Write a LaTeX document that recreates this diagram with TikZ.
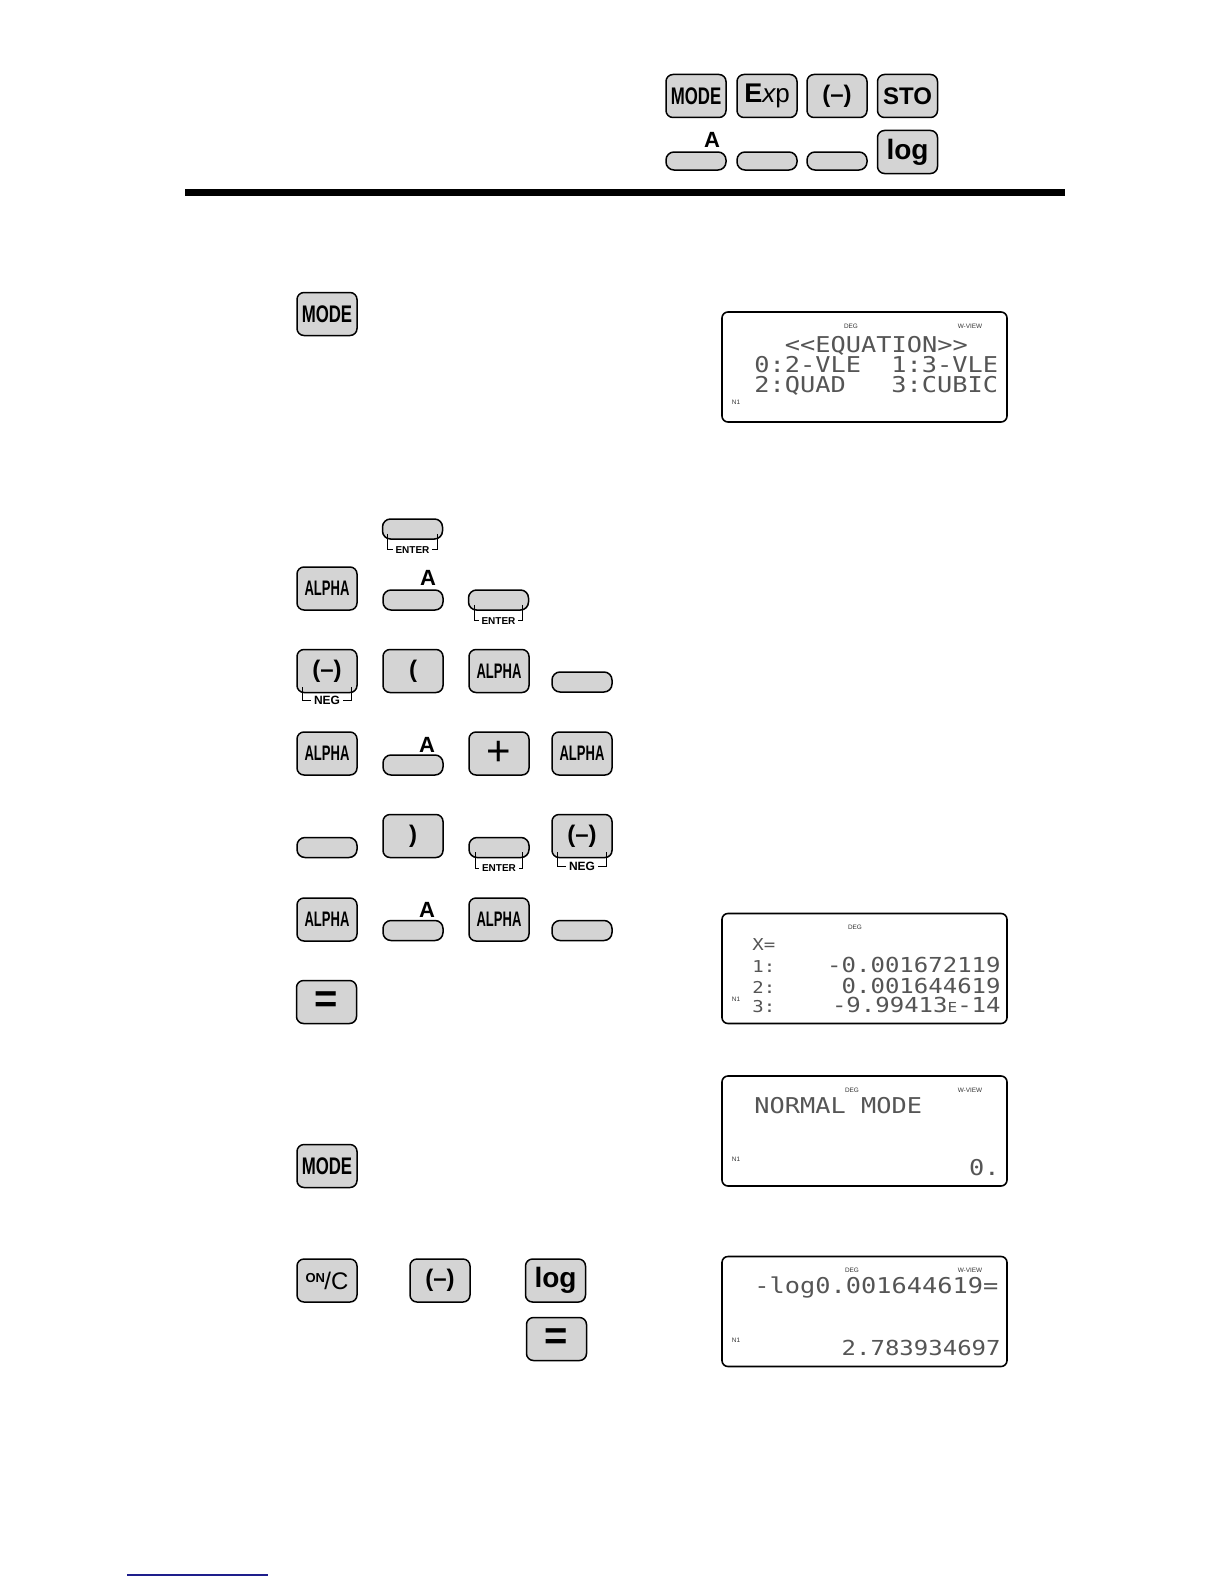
\documentclass[tikz,border=0pt]{standalone}
\usepackage{fontspec}
\usepackage{graphicx}
\setmainfont{Liberation Sans}
\newfontfamily\lcdfont{DejaVu Sans Mono}
\usetikzlibrary{calc}
\definecolor{keygray}{RGB}{212,212,212}
\definecolor{lcdink}{RGB}{85,85,85}
\definecolor{footblue}{RGB}{30,30,140}
\newcommand\condlab[2]{\scalebox{#1}[1]{#2}}
\newcommand\lcdv[1]{\scalebox{1}[0.86]{#1}}
\newcommand\keybracket[5]{%
  \node[brlab, font=\fontsize{#5}{#5}\selectfont\bfseries] (#1-lab) at ($(#1.south)+(0,#4)$) {#2};
  \draw[brline] ($(#1.south west)+(#3,-6)$) |- (#1-lab.west);
  \draw[brline] ($(#1.south east)+(-#3,-6)$) |- (#1-lab.east);
}
\begin{document}
\begin{tikzpicture}[x=0.5pt,y=-0.5pt,
  keybase/.style={draw=black, fill=keygray, line width=0.75pt, rounded corners=3.5pt, inner sep=0pt, minimum width=30pt},
  bigkey/.style={keybase, minimum height=21.5pt},
  flatkey/.style={keybase, minimum height=10pt, rounded corners=4pt},
  hflatkey/.style={keybase, minimum height=9pt, rounded corners=4pt},
  modefont/.style={font=\fontsize{12}{12}\selectfont\bfseries},
  alphafont/.style={font=\fontsize{10.5}{10.5}\selectfont\bfseries},
  negfont/.style={font=\fontsize{12}{12}\selectfont\bfseries},
  logfont/.style={font=\fontsize{14}{14}\selectfont\bfseries},
  eqfont/.style={font=\fontsize{20}{20}\selectfont\bfseries},
  alab/.style={font=\fontsize{11}{11}\selectfont\bfseries, inner sep=0pt},
  brlab/.style={inner xsep=1.2pt, inner ysep=0pt},
  brline/.style={line width=0.5pt},
  lcd/.style={draw=black, line width=0.8pt, rounded corners=3pt, minimum width=142.5pt, minimum height=55pt, inner sep=0pt},
  lcdtxt/.style={text=lcdink, inner sep=0pt, font=\lcdfont\fontsize{12.66}{12.66}\selectfont},
  lcdsm/.style={text=lcdink, inner sep=0pt, font=\lcdfont\fontsize{12}{12}\selectfont},
  lcdidx/.style={text=lcdink, inner sep=0pt, font=\lcdfont\fontsize{9.5}{9.5}\selectfont},
  tinylab/.style={text=black!80, inner sep=0pt, font=\fontsize{3.2}{3.2}\selectfont}
]
\useasboundingbox (0,0) rectangle (1224,1584);
\fill[white] (0,0) rectangle (1224,1584);

% ---------- header ----------
\node[bigkey, modefont] (hmode) at (696,96) {\condlab{0.7}{MODE}};
\node[bigkey] (hexp) at (767,96) {{\fontsize{13.5}{13.5}\selectfont\bfseries E}{\fontsize{13}{13}\selectfont$\mathbf{\mathit{x}}$p}};
\node[bigkey, negfont] (hneg) at (837,96) {(\textendash)};
\node[bigkey, modefont] (hsto) at (907.5,96) {STO};
\node[hflatkey] (hk1) at (696,161) {};
\node[hflatkey] (hk2) at (767,161) {};
\node[hflatkey] (hk3) at (837,161) {};
\node[alab] (hA) at (712,140) {A};
\node[bigkey, logfont] (hlog) at (907.5,152) {log};
\coordinate (ruleL) at (185,192);
\coordinate (ruleR) at (1065,192);
\draw[line width=3.5pt] (ruleL) -- (ruleR);

% ---------- step 1 ----------
\node[bigkey, modefont] (mode1) at (327,314) {\condlab{0.7}{MODE}};

\node[lcd] (d1) at (864.5,367) {};
\node[tinylab] (d1deg) at (851,326) {DEG};
\node[tinylab] (d1wv) at (970,326) {W-VIEW};
\node[tinylab] (d1n) at (736,402) {N1};
\node[lcdtxt, anchor=base west] (d1a) at (784.5,352) {\lcdv{<<EQUATION>>}};
\node[lcdtxt, anchor=base west] (d1b) at (754,372) {\lcdv{0:2-VLE}};
\node[lcdtxt, anchor=base west] (d1c) at (891,372) {\lcdv{1:3-VLE}};
\node[lcdtxt, anchor=base west] (d1d) at (754,392) {\lcdv{2:QUAD}};
\node[lcdtxt, anchor=base west] (d1e) at (891,392) {\lcdv{3:CUBIC}};

% ---------- entry keys ----------
\node[flatkey] (ka) at (412.5,529) {};
\keybracket{ka}{ENTER}{6}{10}{5}

\node[bigkey, alphafont] (kb1) at (327,588.5) {\condlab{0.62}{ALPHA}};
\node[flatkey] (kb2) at (413,600) {};
\node[alab] (kb2A) at (428,578) {A};
\node[flatkey] (kb3) at (498.5,600) {};
\keybracket{kb3}{ENTER}{7}{10}{5}

\node[bigkey, negfont] (kc1) at (327,671) {(\textendash)};
\keybracket{kc1}{NEG}{6}{7}{6}
\node[bigkey, negfont] (kc2) at (413,671) {(};
\node[bigkey, alphafont] (kc3) at (499,671) {\condlab{0.62}{ALPHA}};
\node[flatkey] (kc4) at (582,682) {};

\node[bigkey, alphafont] (kd1) at (327,753.5) {\condlab{0.62}{ALPHA}};
\node[flatkey] (kd2) at (413,765) {};
\node[alab] (kd2A) at (427,745) {A};
\node[bigkey, font=\fontsize{21}{21}\selectfont] (kd3) at (499,753.5) {+};
\node[bigkey, alphafont] (kd4) at (582,753.5) {\condlab{0.62}{ALPHA}};

\node[flatkey] (ke1) at (327,847.5) {};
\node[bigkey, negfont] (ke2) at (413,836) {)};
\node[flatkey] (ke3) at (499,847.5) {};
\keybracket{ke3}{ENTER}{7}{10}{5}
\node[bigkey, negfont] (ke4) at (582,836) {(\textendash)};
\keybracket{ke4}{NEG}{6}{8}{6}

\node[bigkey, alphafont] (kf1) at (327,919.5) {\condlab{0.62}{ALPHA}};
\node[flatkey] (kf2) at (413,930.5) {};
\node[alab] (kf2A) at (427,910) {A};
\node[bigkey, alphafont] (kf3) at (499,919.5) {\condlab{0.62}{ALPHA}};
\node[flatkey] (kf4) at (582,930.5) {};

\node[bigkey, eqfont] (kg1) at (326.5,1002) {=};

\node[lcd] (d2) at (864.5,968.5) {};
\node[tinylab] (d2deg) at (855,927) {DEG};
\node[tinylab] (d2n) at (736,999) {N1};
\node[lcdidx, anchor=base west] (d2x) at (752,950) {\lcdv{X=}};
\node[lcdidx, anchor=base west] (d2i1) at (752,972) {\lcdv{1:}};
\node[lcdidx, anchor=base west] (d2i2) at (752,993) {\lcdv{2:}};
\node[lcdidx, anchor=base west] (d2i3) at (752,1012) {\lcdv{3:}};
\node[lcdsm, anchor=base east] (d2v1) at (1001,972) {\lcdv{-0.001672119}};
\node[lcdsm, anchor=base east] (d2v2) at (1001,993) {\lcdv{0.001644619}};
\node[lcdsm, anchor=base east] (d2v3) at (1001,1012) {\lcdv{-9.99413{\fontsize{8}{8}\selectfont E}-14}};

% ---------- normal mode ----------
\node[lcd] (d3) at (864.5,1131) {};
\node[tinylab] (d3deg) at (852,1090) {DEG};
\node[tinylab] (d3wv) at (970,1090) {W-VIEW};
\node[tinylab] (d3n) at (736,1159) {N1};
\node[lcdtxt, anchor=base west] (d3a) at (754,1113) {\lcdv{NORMAL MODE}};
\node[lcdtxt, anchor=base east] (d3b) at (1000,1175) {\lcdv{0.}};

\node[bigkey, modefont] (mode2) at (327,1166) {\condlab{0.7}{MODE}};

% ---------- log ----------
\node[bigkey] (kon) at (327,1280.5) {\raisebox{3.5pt}{\fontsize{6.5}{6.5}\selectfont\bfseries ON}\kern-0.3pt{\fontsize{12}{12}\selectfont /C}};
\node[bigkey, negfont] (kneg) at (440,1280.5) {(\textendash)};
\node[bigkey, logfont] (klog) at (555.5,1280.5) {log};
\node[bigkey, eqfont] (keq) at (556.5,1339) {=};

\node[lcd] (d4) at (864.5,1311.5) {};
\node[tinylab] (d4deg) at (852,1270) {DEG};
\node[tinylab] (d4wv) at (970,1270) {W-VIEW};
\node[tinylab] (d4n) at (736,1340) {N1};
\node[lcdtxt, anchor=base west] (d4a) at (754,1293) {\lcdv{-log0.001644619=}};
\node[lcdsm, anchor=base east] (d4b) at (1001,1355) {\lcdv{2.783934697}};

% ---------- footer ----------
\coordinate (footL) at (127,1575);
\coordinate (footR) at (268,1575);
\draw[footblue, line width=0.75pt] (footL) -- (footR);
\end{tikzpicture}
\end{document}
